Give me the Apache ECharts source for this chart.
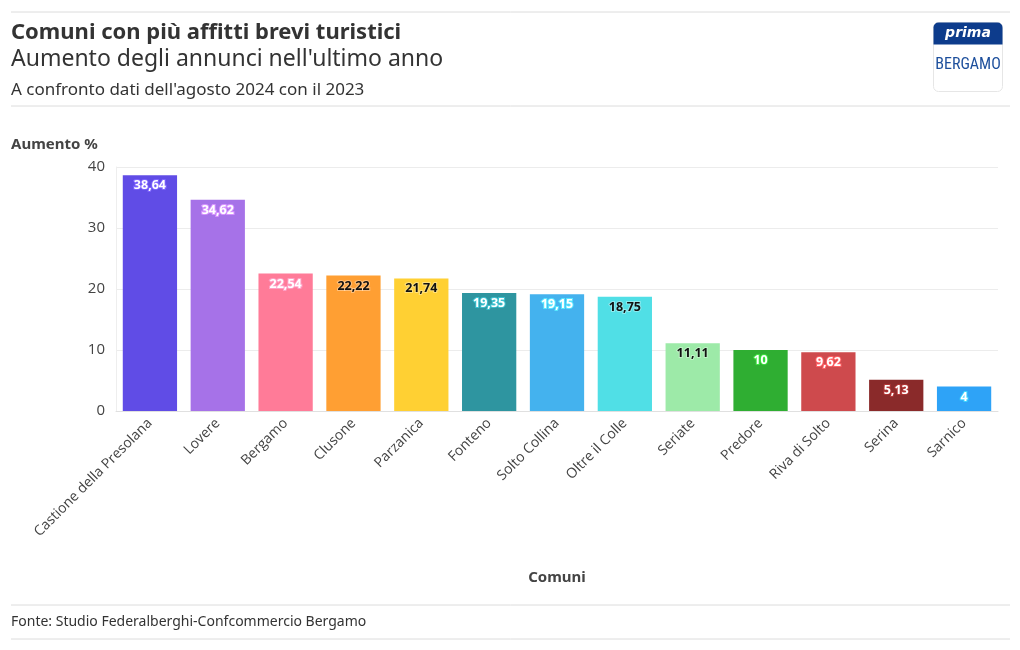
<!DOCTYPE html>
<html><head><meta charset="utf-8">
<script src="https://cdn.jsdelivr.net/npm/echarts@6/dist/echarts.min.js"></script>
<style>html,body{margin:0;padding:0;background:#fff}#c{width:1020px;height:650px}</style>
</head><body><div id="c"></div>
<script>
const categories = ["Castione della Presolana","Lovere","Bergamo","Clusone","Parzanica","Fonteno","Solto Collina","Oltre il Colle","Seriate","Predore","Riva di Solto","Serina","Sarnico"];
const values = [38.64,34.62,22.54,22.22,21.74,19.35,19.15,18.75,11.11,10,9.62,5.13,4];
const barColors = ["#604ce6","#a672e8","#ff7b98","#ff9f33","#ffd033","#2e95a0","#44b2ee","#50dfe6","#9deaa8","#2fae32","#ce4a4d","#8a2a2a","#2ea3f7"];
const labelDark = [false,false,false,true,true,false,false,true,true,false,false,false,false];
const yTicks = [0,10,20,30,40];

const FONT = "'Open Sans', sans-serif";
const chart = echarts.init(document.getElementById('c'));
const data = values.map((v,i)=>({
  value:v,
  itemStyle:{color:barColors[i]},
  label:{
    color: labelDark[i] ? '#111' : '#fff',
    textBorderColor: labelDark[i] ? 'rgba(255,255,255,0.35)' : echarts.color.lift(barColors[i], -0.3),
    textBorderWidth: 2
  }
}));
chart.setOption({
  animation:false,
  textStyle:{fontFamily:FONT},
  graphic:[
    {type:'line',shape:{x1:11,y1:12,x2:1010,y2:12},style:{stroke:'#dcdcdc',lineWidth:1}},
    {type:'text',left:11,top:22,style:{text:'Comuni con più affitti brevi turistici',font:"bold 22px 'Noto Sans', sans-serif",fill:'#333'}},
    {type:'text',left:11,top:48,style:{text:"Aumento degli annunci nell'ultimo anno",font:"23px 'Noto Sans', sans-serif",fill:'#333'}},
    {type:'text',left:11,top:82,style:{text:"A confronto dati dell'agosto 2024 con il 2023",font:"17px 'Noto Sans', sans-serif",fill:'#333'}},
    {type:'line',shape:{x1:11,y1:106,x2:1010,y2:106},style:{stroke:'#dcdcdc',lineWidth:1}},
    {type:'text',left:11,top:137,style:{text:'Aumento %',font:"bold 15px 'Noto Sans', sans-serif",fill:'#444'}},
    {type:'line',shape:{x1:11,y1:605,x2:1010,y2:605},style:{stroke:'#dcdcdc',lineWidth:1}},
    {type:'text',left:11,top:615,style:{text:'Fonte: Studio Federalberghi-Confcommercio Bergamo',font:"14px 'Noto Sans', sans-serif",fill:'#333'}},
    {type:'line',shape:{x1:11,y1:639,x2:1010,y2:639},style:{stroke:'#dcdcdc',lineWidth:1}},
    // logo
    {type:'rect',shape:{x:933.5,y:22.5,width:69,height:69,r:5},style:{fill:'#fff',stroke:'#e6e6e6',lineWidth:1}},
    {type:'rect',shape:{x:933.5,y:22.5,width:69,height:22,r:[5,5,0,0]},style:{fill:'#0d3c8c'}},
    {type:'text',x:968,y:33,style:{text:'prima',font:"italic bold 14px 'DejaVu Sans', sans-serif",fill:'#fff',align:'center',verticalAlign:'middle'}},
    {type:'text',x:968,y:65,style:{text:'BERGAMO',font:"16px 'Liberation Sans Narrow','Roboto Condensed','Liberation Sans', sans-serif",fill:'#1d4f9c',align:'center',verticalAlign:'middle'}}
  ],
  grid:{left:116,right:22,top:167,bottom:239,containLabel:false},
  xAxis:{
    type:'category',data:categories,
    name:'Comuni',nameLocation:'middle',nameGap:159,
    nameTextStyle:{fontFamily:"'Noto Sans', sans-serif",fontWeight:'bold',fontSize:15,color:'#444'},
    axisLine:{lineStyle:{color:'#e0e0e0'}},
    axisTick:{alignWithLabel:true,length:5,lineStyle:{color:'#e0e0e0'}},
    axisLabel:{rotate:45,fontSize:14,color:'#444',interval:0,margin:10}
  },
  yAxis:{
    type:'value',min:0,max:40,interval:10,
    axisLine:{show:true,lineStyle:{color:'#eeeeee'}},
    axisTick:{show:false},
    splitLine:{lineStyle:{color:'#ececec'}},
    axisLabel:{fontSize:15,color:'#444',margin:11,formatter:v=>yTicks.includes(v)?String(v):''}
  },
  series:[{
    type:'bar',data:data,barCategoryGap:'20%',
    label:{show:true,position:'insideTop',distance:4,fontSize:12.5,fontWeight:'bold',
      formatter:p=>String(p.value).replace('.',',')}
  }]
});
</script></body></html>
